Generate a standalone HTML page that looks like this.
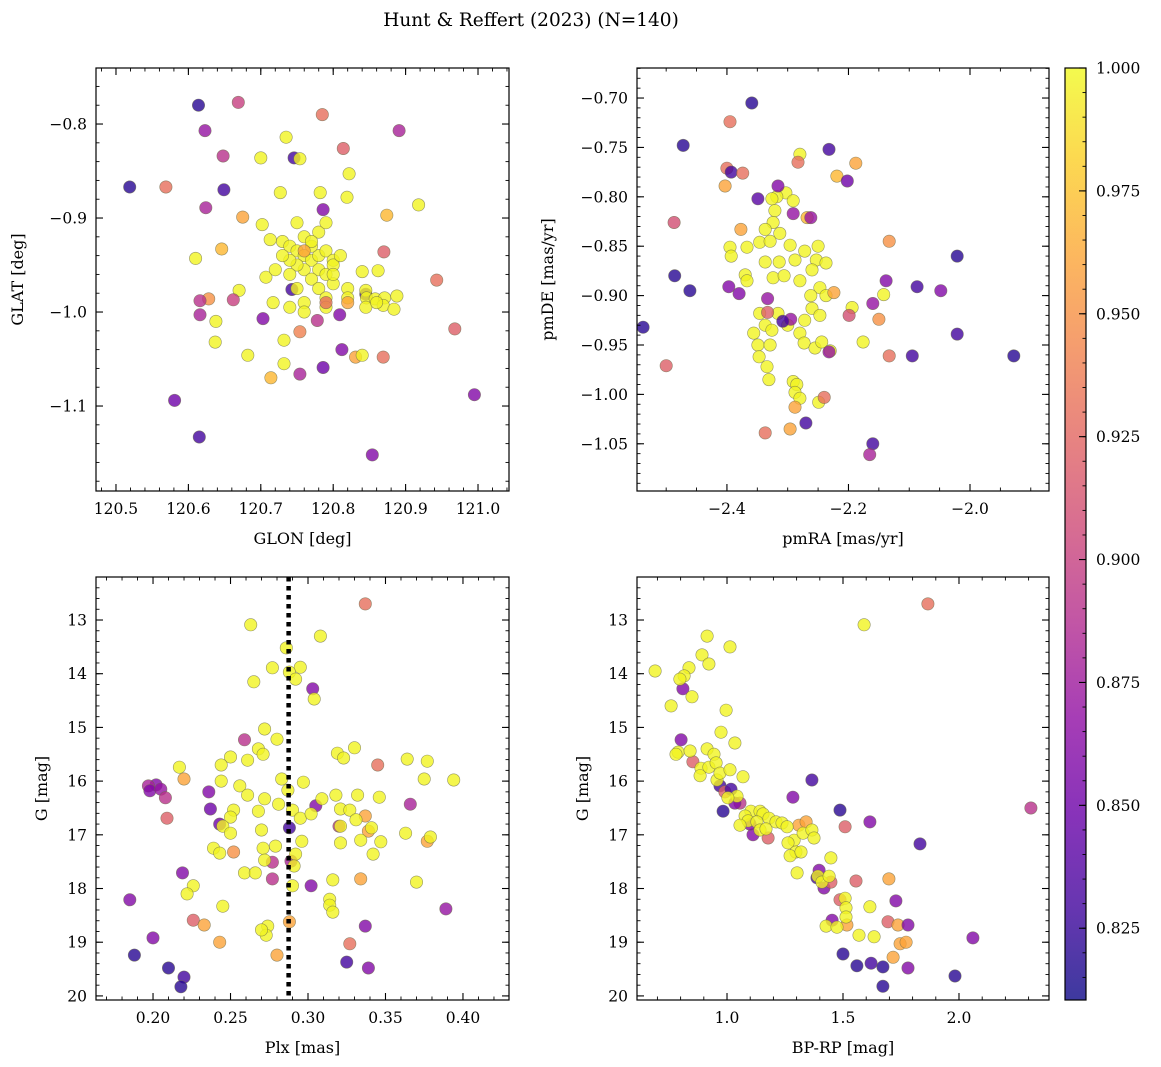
<!DOCTYPE html>
<html><head><meta charset="utf-8"><style>
html,body{margin:0;padding:0;background:#fff;}
svg{display:block;font-family:"DejaVu Serif","Liberation Serif",serif;}
</style></head><body>
<svg id="fig" width="1161" height="1067" viewBox="0 0 1161 1067" xmlns="http://www.w3.org/2000/svg">
<text x="531" y="26" font-size="18.5" text-anchor="middle">Hunt &amp; Reffert (2023) (N=140)</text>
<defs>
<linearGradient id="cbgrad" x1="0" y1="1" x2="0" y2="0">
<stop offset="0" stop-color="#0d0887"/><stop offset="0.1" stop-color="#41049d"/><stop offset="0.2" stop-color="#6a00a8"/><stop offset="0.3" stop-color="#8f0da4"/><stop offset="0.4" stop-color="#b12a90"/><stop offset="0.5" stop-color="#cc4778"/><stop offset="0.6" stop-color="#e16462"/><stop offset="0.7" stop-color="#f2844b"/><stop offset="0.8" stop-color="#fca636"/><stop offset="0.9" stop-color="#fcce25"/><stop offset="1" stop-color="#f0f921"/>
</linearGradient>
</defs>
</svg>
<script>
// ---------- Panel 1 data: GLON / GLAT ----------
const p1Glon = [120.519,120.569,120.614,120.669,120.623,120.648,120.649,120.624,120.675,120.700,120.735,120.746,120.754,120.785,120.814,120.891,120.822,120.819,120.782,120.786,120.727,120.874,120.918,120.646,120.610,120.702,120.713,120.870,120.840,120.862,120.670,120.707,120.628,120.616,120.662,120.616,120.638,120.637,120.682,120.703,120.717,120.743,120.732,120.732,120.714,120.754,120.754,120.786,120.778,120.809,120.812,120.831,120.840,120.869,120.943,120.968,120.995,120.581,120.615,120.854,120.845,
120.73,120.74,120.75,120.76,120.77,120.78,120.79,120.80,120.76,120.75,120.74,120.78,120.79,120.80,120.81,120.77,120.76,120.78,120.79,120.73,120.72,120.74,120.77,120.78,120.79,120.76,120.75,120.80,120.82,120.82,120.79,120.76,120.74,120.77,120.75,120.80,120.76,120.79,
120.845,120.846,120.858,120.871,120.888,120.869,120.884,120.845,120.86,120.82];
const p1Glat = [-0.867,-0.867,-0.780,-0.777,-0.807,-0.834,-0.870,-0.889,-0.899,-0.836,-0.814,-0.836,-0.837,-0.790,-0.826,-0.807,-0.853,-0.878,-0.873,-0.891,-0.873,-0.897,-0.886,-0.933,-0.943,-0.907,-0.923,-0.936,-0.957,-0.956,-0.977,-0.963,-0.986,-0.988,-0.987,-1.003,-1.010,-1.032,-1.046,-1.007,-0.990,-0.976,-1.030,-1.055,-1.070,-1.066,-1.021,-1.059,-1.009,-1.003,-1.040,-1.048,-1.046,-1.048,-0.966,-1.018,-1.088,-1.094,-1.133,-1.152,-0.981,
-0.925,-0.93,-0.935,-0.94,-0.945,-0.94,-0.935,-0.945,-0.955,-0.95,-0.945,-0.955,-0.96,-0.95,-0.94,-0.93,-0.92,-0.915,-0.905,-0.94,-0.955,-0.96,-0.965,-0.975,-0.985,-0.99,-0.975,-0.97,-0.975,-0.985,-0.995,-1.0,-0.995,-0.925,-0.905,-0.96,-0.935,-0.99,
-0.977,-0.985,-0.986,-0.985,-0.983,-0.993,-0.997,-0.995,-0.99,-0.99];
const p1Prob = [0.82,0.93,0.82,0.90,0.87,0.89,0.83,0.88,0.96,0.998,0.998,0.83,0.998,0.93,0.92,0.88,0.998,0.998,0.998,0.86,0.998,0.97,0.998,0.97,0.998,0.998,0.998,0.92,0.998,0.998,0.998,0.998,0.95,0.89,0.90,0.88,0.998,0.998,0.998,0.86,0.998,0.83,0.998,0.998,0.97,0.88,0.94,0.85,0.89,0.86,0.86,0.96,0.998,0.93,0.93,0.92,0.86,0.85,0.83,0.86,0.83,
0.998,0.998,0.998,0.998,0.998,0.998,0.998,0.998,0.998,0.998,0.998,0.998,0.998,0.998,0.998,0.998,0.998,0.998,0.998,0.998,0.998,0.998,0.998,0.998,0.998,0.998,0.998,0.998,0.998,0.998,0.998,0.998,0.998,0.998,0.998,0.998,0.96,0.93,
0.998,0.998,0.998,0.998,0.998,0.998,0.998,0.998,0.998,0.96];

// ---------- Panel 2 data: pmRA / pmDE ----------
const p2PmRA = [-2.303,-2.318,-2.326,-2.291,-2.321,-2.324,-2.337,-2.313,-2.395,-2.393,-2.367,-2.346,-2.329,-2.296,-2.272,-2.250,-2.253,-2.288,-2.314,-2.337,-2.370,-2.367,-2.324,-2.306,-2.280,-2.260,-2.237,-2.247,-2.262,-2.237,-2.194,-2.142,-2.346,-2.316,-2.337,-2.326,-2.300,-2.272,-2.260,-2.247,-2.280,-2.356,-2.349,-2.273,-2.255,-2.244,-2.230,-2.176,-2.347,-2.334,-2.331,-2.291,-2.285,-2.288,-2.280,-2.249,-2.280,-2.329,
-2.359,-2.395,-2.472,-2.400,-2.393,-2.374,-2.403,-2.316,-2.232,-2.283,-2.188,-2.219,-2.202,-2.349,-2.268,-2.262,-2.291,-2.487,-2.377,-2.133,-2.486,-2.461,-2.397,-2.380,-2.333,-2.333,-2.295,-2.308,-2.224,-2.160,-2.138,-2.087,-2.048,-2.021,-2.021,-1.928,-2.095,-2.150,-2.199,-2.133,-2.538,-2.500,-2.232,-2.288,-2.240,-2.337,-2.296,-2.270,-2.160,-2.165];
const p2PmDE = [-0.796,-0.800,-0.802,-0.804,-0.814,-0.826,-0.833,-0.837,-0.851,-0.860,-0.851,-0.846,-0.845,-0.849,-0.855,-0.850,-0.864,-0.864,-0.866,-0.866,-0.879,-0.885,-0.882,-0.880,-0.885,-0.874,-0.867,-0.892,-0.900,-0.900,-0.912,-0.899,-0.918,-0.918,-0.930,-0.935,-0.930,-0.925,-0.913,-0.920,-0.938,-0.938,-0.950,-0.948,-0.953,-0.947,-0.956,-0.947,-0.962,-0.972,-0.985,-0.987,-0.990,-0.998,-1.004,-1.008,-0.757,-0.950,
-0.705,-0.724,-0.748,-0.771,-0.775,-0.776,-0.789,-0.789,-0.752,-0.765,-0.766,-0.779,-0.784,-0.802,-0.821,-0.821,-0.817,-0.826,-0.833,-0.845,-0.880,-0.895,-0.891,-0.898,-0.903,-0.917,-0.924,-0.926,-0.897,-0.908,-0.885,-0.891,-0.895,-0.860,-0.939,-0.961,-0.961,-0.924,-0.920,-0.961,-0.932,-0.971,-0.957,-1.013,-1.003,-1.039,-1.035,-1.029,-1.050,-1.061];
const p2Prob = [0.998,0.998,0.998,0.998,0.998,0.998,0.998,0.998,0.998,0.998,0.998,0.998,0.998,0.998,0.998,0.998,0.998,0.998,0.998,0.998,0.998,0.998,0.998,0.998,0.998,0.998,0.998,0.998,0.998,0.998,0.998,0.998,0.998,0.998,0.998,0.998,0.998,0.998,0.998,0.998,0.998,0.998,0.998,0.998,0.998,0.998,0.998,0.998,0.998,0.998,0.998,0.998,0.998,0.998,0.998,0.998,0.998,0.998,
0.82,0.93,0.82,0.93,0.83,0.93,0.96,0.86,0.83,0.93,0.96,0.97,0.85,0.84,0.97,0.87,0.87,0.91,0.96,0.95,0.82,0.82,0.86,0.86,0.87,0.92,0.87,0.83,0.96,0.87,0.86,0.83,0.86,0.82,0.83,0.82,0.83,0.95,0.91,0.93,0.82,0.92,0.87,0.96,0.93,0.93,0.96,0.83,0.83,0.88];

// ---------- Panel 3 data: Plx / G ----------
const p3Plx = [0.337,0.303,0.259,0.345,0.220,0.202,0.197,0.198,0.205,0.208,0.236,0.366,0.305,0.237,0.209,0.337,0.243,0.288,0.320,0.339,0.377,0.252,0.277,0.289,0.277,0.334,0.219,0.302,0.185,0.389,0.226,0.233,0.288,0.337,0.200,0.243,0.327,0.188,0.280,0.325,0.339,0.210,0.220,0.218,
0.263,0.308,0.286,0.277,0.295,0.288,0.292,0.265,0.304,0.272,0.280,0.250,0.268,0.330,0.319,0.323,0.364,0.377,0.217,0.244,0.261,0.271,0.283,0.287,0.297,0.256,0.261,0.244,0.394,0.375,0.272,0.281,0.309,0.318,0.332,0.346,0.268,0.290,0.321,0.327,0.252,0.250,0.295,0.302,0.245,0.321,0.331,0.341,0.363,0.379,0.270,0.250,0.296,0.321,0.334,0.347,0.279,0.271,0.239,0.243,0.292,0.342,0.272,0.291,0.259,0.266,0.370,0.316,0.290,0.226,0.222,0.245,0.314,0.314,0.316,0.274,0.273,0.270];
const p3G = [12.70,14.28,15.23,15.70,15.96,16.07,16.09,16.18,16.15,16.31,16.20,16.43,16.46,16.52,16.69,16.65,16.80,16.87,16.84,16.93,17.12,17.32,17.51,17.49,17.82,17.82,17.71,17.95,18.21,18.38,18.59,18.68,18.62,18.70,18.92,19.00,19.03,19.24,19.24,19.37,19.48,19.48,19.65,19.83,
13.09,13.30,13.52,13.89,13.88,13.97,14.10,14.15,14.47,15.03,15.22,15.55,15.40,15.38,15.48,15.57,15.59,15.63,15.74,15.70,15.61,15.50,15.96,16.17,16.02,16.09,16.26,16.00,15.98,15.96,16.33,16.43,16.33,16.26,16.26,16.30,16.56,16.54,16.52,16.54,16.54,16.67,16.69,16.61,16.84,16.84,16.72,16.87,16.97,17.04,16.91,16.97,17.12,17.15,17.10,17.13,17.21,17.25,17.25,17.34,17.36,17.36,17.47,17.58,17.71,17.71,17.88,17.84,17.95,17.95,18.10,18.33,18.20,18.31,18.44,18.70,18.87,18.77];
const p3Prob = [0.93,0.86,0.89,0.93,0.96,0.86,0.88,0.86,0.87,0.89,0.86,0.88,0.86,0.85,0.92,0.96,0.85,0.83,0.89,0.96,0.96,0.95,0.89,0.88,0.89,0.96,0.86,0.86,0.86,0.87,0.92,0.96,0.96,0.86,0.86,0.96,0.93,0.82,0.96,0.83,0.86,0.82,0.83,0.82,
0.998,0.998,0.998,0.998,0.998,0.998,0.998,0.998,0.998,0.998,0.998,0.998,0.998,0.998,0.998,0.998,0.998,0.998,0.998,0.998,0.998,0.998,0.998,0.998,0.998,0.998,0.998,0.998,0.998,0.998,0.998,0.998,0.998,0.998,0.998,0.998,0.998,0.998,0.998,0.998,0.998,0.998,0.998,0.998,0.998,0.998,0.998,0.998,0.998,0.998,0.998,0.998,0.998,0.998,0.998,0.998,0.998,0.998,0.998,0.998,0.998,0.998,0.998,0.998,0.998,0.998,0.998,0.998,0.998,0.998,0.998,0.998,0.998,0.998,0.998,0.998,0.998,0.998];
const plxLine = 0.2875;

// ---------- Panel 4 data: BP-RP / G ----------
const p4Color = [1.866,0.810,0.802,0.853,0.970,0.991,1.017,0.983,1.056,1.034,1.112,1.099,1.366,1.284,1.487,1.177,1.310,1.341,1.509,1.616,2.310,1.832,1.397,1.388,1.418,1.556,1.698,1.487,1.448,1.728,1.453,1.517,1.694,1.737,1.780,1.746,1.772,1.500,1.716,2.060,1.560,1.621,1.672,1.780,1.983,1.672,
1.591,0.690,0.892,0.914,1.013,0.836,0.815,0.797,0.922,0.849,0.759,0.996,0.789,0.780,0.841,0.974,1.034,0.914,0.944,0.888,0.922,0.953,0.957,0.970,1.013,1.069,0.884,1.043,1.004,1.103,1.142,1.078,1.091,1.056,1.155,1.129,1.181,1.142,1.168,1.211,1.237,1.259,1.289,1.263,1.297,1.272,1.319,1.328,1.366,1.375,1.302,1.392,1.409,1.448,1.440,1.509,1.513,1.513,1.616,1.427,1.474,1.569,1.634];
const p4G = [12.70,14.28,15.23,15.64,16.09,16.20,16.15,16.56,16.41,16.41,17.00,16.80,15.98,16.30,16.54,17.06,16.82,16.76,16.85,16.76,16.50,17.17,17.66,17.80,17.99,17.86,17.82,18.21,17.88,18.23,18.59,18.68,18.62,18.68,18.68,19.03,19.00,19.22,19.28,18.92,19.44,19.39,19.46,19.48,19.63,19.82,
13.09,13.95,13.65,13.30,13.50,13.89,14.04,14.10,13.82,14.43,14.60,14.68,15.46,15.50,15.44,15.09,15.29,15.40,15.50,15.76,15.74,15.66,15.98,15.85,15.79,15.92,15.90,16.28,16.31,16.56,16.56,16.65,16.74,16.82,16.61,16.76,16.69,16.91,16.89,16.76,16.78,16.85,17.10,17.15,17.32,17.39,17.32,16.97,16.91,17.06,17.71,17.77,17.88,17.43,17.77,18.18,18.36,18.53,18.34,18.70,18.72,18.87,18.90];
const p4Prob = [0.93,0.86,0.86,0.92,0.83,0.92,0.83,0.82,0.89,0.86,0.86,0.86,0.83,0.86,0.82,0.92,0.96,0.96,0.92,0.86,0.89,0.83,0.86,0.83,0.86,0.92,0.96,0.92,0.92,0.86,0.86,0.96,0.92,0.96,0.86,0.96,0.96,0.82,0.96,0.86,0.82,0.83,0.82,0.86,0.82,0.82,
0.998,0.998,0.998,0.998,0.998,0.998,0.998,0.998,0.998,0.998,0.998,0.998,0.998,0.998,0.998,0.998,0.998,0.998,0.998,0.998,0.998,0.998,0.998,0.998,0.998,0.998,0.998,0.998,0.998,0.998,0.998,0.998,0.998,0.998,0.998,0.998,0.998,0.998,0.998,0.998,0.998,0.998,0.998,0.998,0.998,0.998,0.998,0.998,0.998,0.998,0.998,0.998,0.998,0.998,0.998,0.998,0.998,0.998,0.998,0.998,0.998,0.998,0.998];

// ---------- Tick values ----------
const p1XTicks = [120.5,120.6,120.7,120.8,120.9,121.0];
const p1YTicks = [-0.8,-0.9,-1.0,-1.1];
const p2XTicks = [-2.4,-2.2,-2.0];
const p2YTicks = [-0.70,-0.75,-0.80,-0.85,-0.90,-0.95,-1.00,-1.05];
const p3XTicks = [0.20,0.25,0.30,0.35,0.40];
const gTicks = [13,14,15,16,17,18,19,20];
const p4XTicks = [1.0,1.5,2.0];
const cbTicks = [0.825,0.850,0.875,0.900,0.925,0.950,0.975,1.000];
const cbMin = 0.8104, cbMax = 1.0;

const NS = 'http://www.w3.org/2000/svg';
const svg = document.getElementById('fig');
const stops = [[0,'#0d0887'],[0.1,'#41049d'],[0.2,'#6a00a8'],[0.3,'#8f0da4'],[0.4,'#b12a90'],[0.5,'#cc4778'],[0.6,'#e16462'],[0.7,'#f2844b'],[0.8,'#fca636'],[0.9,'#fcce25'],[1,'#f0f921']];
function hex(h){return [parseInt(h.substr(1,2),16),parseInt(h.substr(3,2),16),parseInt(h.substr(5,2),16)];}
function plasma(t){
  t=Math.max(0,Math.min(1,t));
  for(let i=0;i<stops.length-1;i++){
    if(t<=stops[i+1][0]){
      const f=(t-stops[i][0])/(stops[i+1][0]-stops[i][0]);
      const a=hex(stops[i][1]),b=hex(stops[i+1][1]);
      return 'rgb('+a.map((v,k)=>Math.round(v+(b[k]-v)*f)).join(',')+')';
    }
  }
  return stops[stops.length-1][1];
}
function mk(tag,attrs,parent){const e=document.createElementNS(NS,tag);for(const k in attrs)e.setAttribute(k,attrs[k]);(parent||svg).appendChild(e);return e;}
function fmt(v,d){return (v<0?'\u2212':'')+Math.abs(v).toFixed(d);}

function panel(o){
  const g=mk('g',{});
  
  
  const sx=v=>o.x0+(v-o.xmin)/(o.xmax-o.xmin)*(o.x1-o.x0);
  const sy=o.yinv? (v=>o.y0+(v-o.ymin)/(o.ymax-o.ymin)*(o.y1-o.y0)) : (v=>o.y1-(v-o.ymin)/(o.ymax-o.ymin)*(o.y1-o.y0));
  const clip='clip-'+o.name;
  const cp=mk('clipPath',{id:clip},g); mk('rect',{x:o.x0,y:o.y0,width:o.x1-o.x0,height:o.y1-o.y0},cp);
  const pts=mk('g',{'clip-path':'url(#'+clip+')'},g);
  for(let i=0;i<o.xs.length;i++){
    const c=mk('circle',{cx:sx(o.xs[i]).toFixed(1),cy:sy(o.ys[i]).toFixed(1),r:6.2,fill:plasma((o.ps[i]-cbMin)/(cbMax-cbMin)),'fill-opacity':0.8,stroke:'#6b6b4a','stroke-opacity':0.7,'stroke-width':0.6},pts);
    
    
  }
  if(o.vline!==undefined){
    const l=mk('line',{x1:sx(o.vline),x2:sx(o.vline),y1:o.y0,y2:o.y1,stroke:'#000','stroke-width':4.5,'stroke-dasharray':'4.5 4.5'},pts);
    
    
  }
  const fr=mk('rect',{x:o.x0,y:o.y0,width:o.x1-o.x0,height:o.y1-o.y0,fill:'none',stroke:'#000','stroke-width':1.2},g);
  
  
  const eps=1e-9;
  for(let v=Math.ceil(o.xmin/o.xminor-eps)*o.xminor; v<=o.xmax+eps; v+=o.xminor){
    const X=sx(v); mk('line',{x1:X,x2:X,y1:o.y1,y2:o.y1-3.5,stroke:'#000','stroke-width':0.9},g); mk('line',{x1:X,x2:X,y1:o.y0,y2:o.y0+3.5,stroke:'#000','stroke-width':0.9},g);
  }
  for(let v=Math.ceil(o.ymin/o.yminor-eps)*o.yminor; v<=o.ymax+eps; v+=o.yminor){
    const Y=sy(v); mk('line',{x1:o.x0,x2:o.x0+3.5,y1:Y,y2:Y,stroke:'#000','stroke-width':0.9},g); mk('line',{x1:o.x1,x2:o.x1-3.5,y1:Y,y2:Y,stroke:'#000','stroke-width':0.9},g);
  }
  o.xt.forEach(v=>{
    const X=sx(v);
    mk('line',{x1:X,x2:X,y1:o.y1,y2:o.y1-7,stroke:'#000','stroke-width':1.1},g); mk('line',{x1:X,x2:X,y1:o.y0,y2:o.y0+7,stroke:'#000','stroke-width':1.1},g);
    const t=mk('text',{x:X,y:o.y1+23,'font-size':15.5,'text-anchor':'middle'},g); t.textContent=fmt(v,o.xd);
    
    
  });
  o.yt.forEach(v=>{
    const Y=sy(v);
    mk('line',{x1:o.x0,x2:o.x0+7,y1:Y,y2:Y,stroke:'#000','stroke-width':1.1},g); mk('line',{x1:o.x1,x2:o.x1-7,y1:Y,y2:Y,stroke:'#000','stroke-width':1.1},g);
    const t=mk('text',{x:o.x0-9,y:Y+5.5,'font-size':15.5,'text-anchor':'end'},g); t.textContent=fmt(v,o.yd);
    
    
  });
  const xl=mk('text',{x:(o.x0+o.x1)/2,y:o.y1+53,'font-size':16,'text-anchor':'middle'},g); xl.textContent=o.xlabel;
  
  
  const yl=mk('text',{x:0,y:0,'font-size':16,'text-anchor':'middle',transform:'translate('+o.ylx+','+((o.y0+o.y1)/2)+') rotate(-90)'},g); yl.textContent=o.ylabel;
  
  
}

panel({name:'glon-glat-panel',x0:96,x1:509,y0:68,y1:491,xmin:120.4724,xmax:121.0428,ymin:-1.1904,ymax:-0.7404,xs:p1Glon,ys:p1Glat,ps:p1Prob,xt:p1XTicks,yt:p1YTicks,xd:1,yd:1,xminor:0.02,yminor:0.02,xlabel:'GLON [deg]',ylabel:'GLAT [deg]',ylx:23});
panel({name:'proper-motion-panel',x0:637,x1:1049,y0:68,y1:491,xmin:-2.548,xmax:-1.870,ymin:-1.0978,ymax:-0.6696,xs:p2PmRA,ys:p2PmDE,ps:p2Prob,xt:p2XTicks,yt:p2YTicks,xd:1,yd:2,xminor:0.05,yminor:0.01,xlabel:'pmRA [mas/yr]',ylabel:'pmDE [mas/yr]',ylx:553});
panel({name:'plx-g-panel',x0:96,x1:509,y0:577,y1:1000,xmin:0.1632,xmax:0.4297,ymin:12.199,ymax:20.076,yinv:true,xs:p3Plx,ys:p3G,ps:p3Prob,xt:p3XTicks,yt:gTicks,xd:2,yd:0,xminor:0.01,yminor:0.2,xlabel:'Plx [mas]',ylabel:'G [mag]',ylx:47,vline:plxLine});
panel({name:'cmd-panel',x0:637,x1:1049,y0:577,y1:1000,xmin:0.612,xmax:2.388,ymin:12.199,ymax:20.076,yinv:true,xs:p4Color,ys:p4G,ps:p4Prob,xt:p4XTicks,yt:gTicks,xd:1,yd:0,xminor:0.1,yminor:0.2,xlabel:'BP-RP [mag]',ylabel:'G [mag]',ylx:588});

(function(){
  const x0=1065,x1=1086,y0=68,y1=1000;
  const g=mk('g',{});
  
  
  mk('rect',{x:x0,y:y0,width:x1-x0,height:y1-y0,fill:'url(#cbgrad)','fill-opacity':0.8},g);
  mk('rect',{x:x0,y:y0,width:x1-x0,height:y1-y0,fill:'none',stroke:'#000','stroke-width':1.2},g);
  const sy=v=>y1-(v-cbMin)/(cbMax-cbMin)*(y1-y0);
  for(let v=0.815; v<=1.0001; v+=0.005){const Y=sy(v); mk('line',{x1:x1,x2:x1-3.5,y1:Y,y2:Y,stroke:'#000','stroke-width':0.9},g);}
  cbTicks.forEach(v=>{
    const Y=sy(v);
    mk('line',{x1:x1,x2:x1-7,y1:Y,y2:Y,stroke:'#000','stroke-width':1.1},g);
    const t=mk('text',{x:x1+10,y:Y+5.5,'font-size':15.5},g); t.textContent=v.toFixed(3);
    
    
  });
})();
</script>
</body></html>
